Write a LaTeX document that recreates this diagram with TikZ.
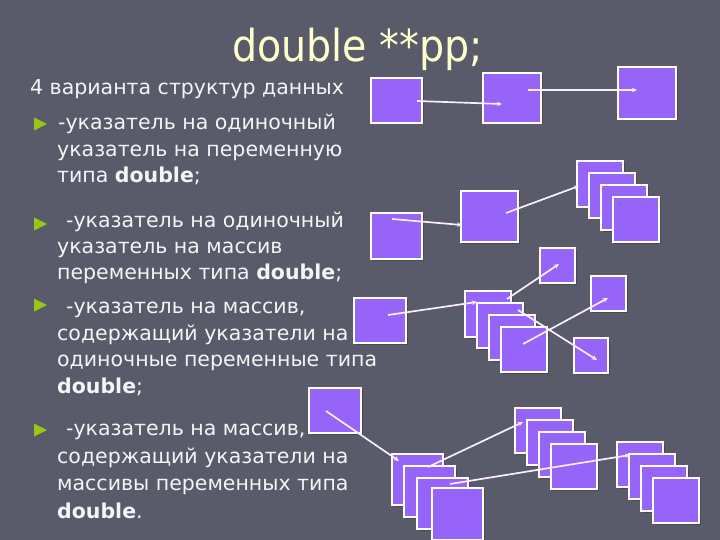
\documentclass[tikz,border=0pt]{standalone}
\usepackage{fontspec}
\setmainfont{DejaVu Sans}
\newfontfamily\titlefont[FakeStretch=0.9]{DejaVu Sans}
\newfontfamily\bodyfont{DejaVu Sans}
\usetikzlibrary{arrows.meta,calc}
\definecolor{bg}{RGB}{89,90,106}
\definecolor{sqfill}{RGB}{150,100,248}
\definecolor{titlecol}{RGB}{255,255,204}
\definecolor{txtcol}{RGB}{245,245,245}
\definecolor{bulletcol}{RGB}{150,200,20}
\definecolor{arrcol}{RGB}{252,238,252}
\begin{document}
\begin{tikzpicture}[x=1pt,y=-1pt,
  sq/.style 2 args={draw=white, line width=1.4pt, fill=sqfill, minimum width=#1, minimum height=#2, inner sep=0pt, outer sep=0pt, anchor=north west,
    preaction={fill=black, fill opacity=0.2, draw=none, transform canvas={shift={(1.5pt,-1.5pt)}}}},
  ptr/.style={draw=arrcol, line width=1.7pt, -{Stealth[length=5pt,width=4.5pt]}},
  txtline/.style={anchor=base west, inner sep=0pt, text=txtcol, font=\bodyfont\fontsize{20.5}{24}\selectfont},
  bulletmark/.style={fill=bulletcol}
]
\useasboundingbox (0,0) rectangle (720,540);
\fill[bg] (0,0) rectangle (720,540);

% title
\node[anchor=base west, inner sep=0pt, text=titlecol, font=\titlefont\fontsize{44}{50}\selectfont] (title) at (232,62) {double **pp;};

% text
\node[txtline] (t1) at (30,95) {4 варианта структур данных};
\node[txtline] (t2) at (58,130) {-указатель на одиночный};
\node[txtline] (t3) at (57,157) {указатель на переменную};
\node[txtline] (t4) at (57,183) {типа \textbf{double};};
\node[txtline] (t5) at (66,227) {-указатель на одиночный};
\node[txtline] (t6) at (57,253) {указатель на массив};
\node[txtline] (t7) at (57,279) {переменных типа \textbf{double};};
\node[txtline] (t8) at (66,313) {-указатель на массив,};
\node[txtline] (t9) at (57,340) {содержащий указатели на};
\node[txtline] (t10) at (57,366) {одиночные переменные типа};
\node[txtline] (t11) at (57,393) {\textbf{double};};
\node[txtline] (t12) at (66,435) {-указатель на массив,};
\node[txtline] (t13) at (57,463) {содержащий указатели на};
\node[txtline] (t14) at (57,490) {массивы переменных типа};
\node[txtline] (t15) at (57,518) {\textbf{double}.};

% bullets
\foreach \b in {124,224,305,430}{
  \fill[bulletmark] (34,\b-6.5) -- (34,\b+6.5) -- (47,\b) -- cycle;
}

% group 1
\node[sq={51pt}{45pt}] (A1) at (371,78) {};
\node[sq={58pt}{50pt}] (A2) at (483,73) {};
\node[sq={58pt}{52pt}] (A3) at (618,67) {};

% group 2
\node[sq={51pt}{46pt}] (B1) at (371,213) {};
\node[sq={57pt}{51pt}] (B2) at (461,191) {};
\node[sq={46pt}{46pt}] (B3a) at (577,161) {};
\node[sq={46pt}{45pt}] (B3b) at (589,173) {};
\node[sq={46pt}{45pt}] (B3c) at (601,185) {};
\node[sq={46pt}{45pt}] (B3d) at (613,197) {};

% group 3
\node[sq={52pt}{45pt}] (C1) at (354,298) {};
\node[sq={46pt}{46pt}] (Ca) at (465,291) {};
\node[sq={46pt}{45pt}] (Cb) at (477,303) {};
\node[sq={46pt}{45pt}] (Cc) at (489,315) {};
\node[sq={46pt}{45pt}] (Cd) at (501,327) {};
\node[sq={35pt}{35pt}] (D1) at (540,248) {};
\node[sq={35pt}{35pt}] (D2) at (591,276) {};
\node[sq={34pt}{35pt}] (D3) at (574,338) {};

% group 4
\node[sq={52pt}{45pt}] (E1) at (309,388) {};
\node[sq={51pt}{51pt}] (Ea) at (392,454) {};
\node[sq={51pt}{51pt}] (Eb) at (404,466) {};
\node[sq={51pt}{51pt}] (Ec) at (417,478) {};
\node[sq={51pt}{52pt}] (Ed) at (432,488) {};
\node[sq={46pt}{45pt}] (Fa) at (515,408) {};
\node[sq={46pt}{45pt}] (Fb) at (527,420) {};
\node[sq={46pt}{45pt}] (Fc) at (539,432) {};
\node[sq={46pt}{45pt}] (Fd) at (551,444) {};
\node[sq={46pt}{45pt}] (Ga) at (617,442) {};
\node[sq={46pt}{45pt}] (Gb) at (629,454) {};
\node[sq={46pt}{45pt}] (Gc) at (641,466) {};
\node[sq={46pt}{45pt}] (Gd) at (653,478) {};

% pointers
\draw[ptr] ($(A1.north west)+(46,23)$) -- ($(A2.north west)+(19,31)$);
\draw[ptr] ($(A2.north west)+(45,17)$) -- ($(A3.north west)+(19,23)$);
\draw[ptr] ($(B1.north west)+(21,6)$) -- ($(B2.north west)+(1,34)$);
\draw[ptr] ($(B2.north west)+(45,22)$) -- ($(B3a.north west)+(2,25)$);
\draw[ptr] ($(C1.north west)+(34,17)$) -- ($(Ca.north west)+(12,11)$);
\draw[ptr] ($(Ca.north west)+(42,8)$) -- ($(D1.north west)+(19,16)$);
\draw[ptr] ($(Cb.north west)+(41,7)$) -- ($(D3.north west)+(23,22)$);
\draw[ptr] ($(Cd.north west)+(22,17)$) -- ($(D2.north west)+(17,22)$);
\draw[ptr] ($(E1.north west)+(17,23)$) -- ($(Ea.north west)+(7,7)$);
\draw[ptr] ($(Eb.north west)+(24,1)$) -- ($(Fa.north west)+(8,14)$);
\draw[ptr] ($(Ec.north west)+(33,6)$) -- ($(Ga.north west)+(13,13)$);
\end{tikzpicture}
\end{document}
